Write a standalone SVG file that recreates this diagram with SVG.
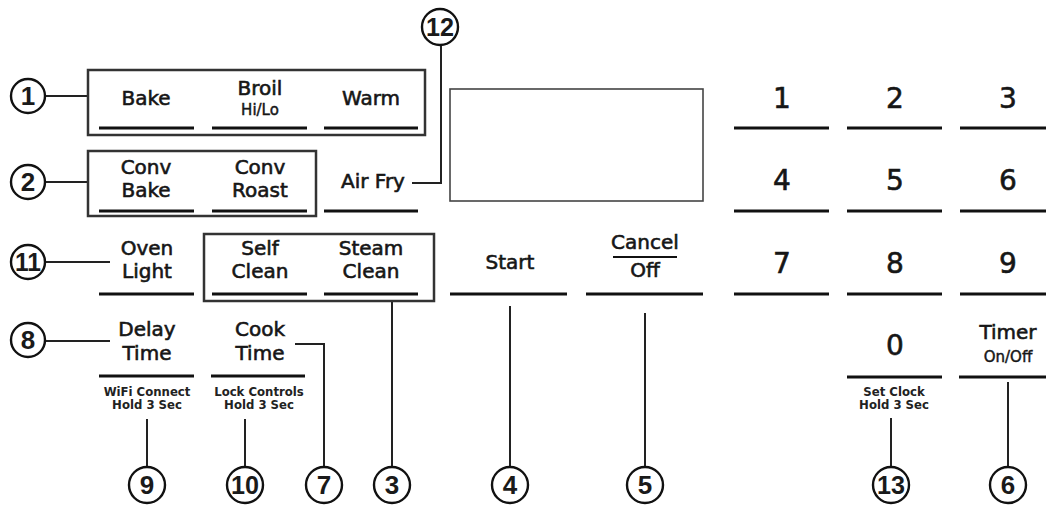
<svg xmlns="http://www.w3.org/2000/svg" width="1046" height="505" viewBox="0 0 1046 505">
<style>
.lbl{font-family:"DejaVu Sans",sans-serif;font-size:20px;fill:#161616;stroke:#161616;stroke-width:0.6;text-anchor:middle}
.sub{font-family:"DejaVu Sans",sans-serif;font-size:15px;fill:#161616;stroke:#161616;stroke-width:0.45;text-anchor:middle}
.tiny{font-family:"DejaVu Sans Condensed","DejaVu Sans",sans-serif;font-weight:bold;font-stretch:condensed;font-size:13px;fill:#222;text-anchor:middle}
.dig{font-family:"DejaVu Sans",sans-serif;font-size:28px;fill:#161616;stroke:#161616;stroke-width:0.6;text-anchor:middle}
.ul{stroke:#111;stroke-width:3;fill:none}
.box{stroke:#333;stroke-width:2.5;fill:none}
.disp{stroke:#444;stroke-width:1.6;fill:none}
.con{stroke:#222;stroke-width:2;fill:none}
.cc{stroke:#111;stroke-width:2.4;fill:#fff}
.cn{font-family:"Liberation Sans",Arial,sans-serif;font-weight:bold;font-size:26px;fill:#1a1a1a;text-anchor:middle}
</style>
<g id="connectors">
<line class="con" x1="46" y1="96" x2="88" y2="96"/>
<line class="con" x1="46" y1="182" x2="88" y2="182"/>
<line class="con" x1="46" y1="262" x2="110" y2="262"/>
<line class="con" x1="46" y1="341" x2="110" y2="341"/>
<polyline class="con" points="412,183 441,183 441,45"/>
<polyline class="con" points="295,344 324,344 324,467"/>
<line class="con" x1="392" y1="301" x2="392" y2="467"/>
<line class="con" x1="147" y1="419" x2="147" y2="467"/>
<line class="con" x1="245" y1="419" x2="245" y2="467"/>
<line class="con" x1="510" y1="306" x2="510" y2="467"/>
<line class="con" x1="645" y1="313" x2="645" y2="467"/>
<line class="con" x1="891" y1="418" x2="891" y2="467"/>
<line class="con" x1="1008" y1="382" x2="1008" y2="467"/>
</g>
<g id="group1"><rect class="box" x="88" y="70" width="337" height="65"/></g>
<g id="group2"><rect class="box" x="88" y="151" width="228" height="65"/></g>
<g id="group3"><rect class="box" x="204" y="234" width="230" height="67"/></g>
<g id="display"><rect class="disp" x="450" y="89" width="253" height="112"/></g>
<g id="bake"><text class="lbl" x="146" y="105">Bake</text><line class="ul" x1="99" y1="128" x2="194" y2="128"/></g>
<g id="broil"><text class="lbl" x="260" y="95">Broil</text><text class="sub" x="260" y="115">Hi/Lo</text><line class="ul" x1="212" y1="128" x2="307" y2="128"/></g>
<g id="warm"><text class="lbl" x="371" y="105">Warm</text><line class="ul" x1="324" y1="128" x2="418" y2="128"/></g>
<g id="convbake"><text class="lbl" x="146" y="174">Conv</text><text class="lbl" x="146" y="197">Bake</text><line class="ul" x1="99" y1="211" x2="194" y2="211"/></g>
<g id="convroast"><text class="lbl" x="260" y="174">Conv</text><text class="lbl" x="260" y="197">Roast</text><line class="ul" x1="212" y1="211" x2="307" y2="211"/></g>
<g id="airfry"><text class="lbl" x="373" y="188">Air Fry</text><line class="ul" x1="324" y1="211" x2="418" y2="211"/></g>
<g id="ovenlight"><text class="lbl" x="147" y="255">Oven</text><text class="lbl" x="147" y="278">Light</text><line class="ul" x1="99" y1="294" x2="194" y2="294"/></g>
<g id="selfclean"><text class="lbl" x="260" y="255">Self</text><text class="lbl" x="260" y="278">Clean</text><line class="ul" x1="212" y1="294" x2="307" y2="294"/></g>
<g id="steamclean"><text class="lbl" x="371" y="255">Steam</text><text class="lbl" x="371" y="278">Clean</text><line class="ul" x1="324" y1="294" x2="418" y2="294"/></g>
<g id="start"><text class="lbl" x="510" y="269">Start</text><line class="ul" x1="450" y1="294" x2="567" y2="294"/></g>
<g id="canceloff"><text class="lbl" x="645" y="249">Cancel</text><line x1="613" y1="257" x2="677" y2="257" stroke="#111" stroke-width="2"/><text class="lbl" x="645" y="277">Off</text><line class="ul" x1="586" y1="294" x2="703" y2="294"/></g>
<g id="delaytime"><text class="lbl" x="147" y="336">Delay</text><text class="lbl" x="147" y="360">Time</text><line class="ul" x1="99" y1="376" x2="194" y2="376"/><text class="tiny" x="147" y="396">WiFi Connect</text><text class="tiny" x="147" y="409">Hold 3 Sec</text></g>
<g id="cooktime"><text class="lbl" x="260" y="336">Cook</text><text class="lbl" x="260" y="360">Time</text><line class="ul" x1="211" y1="376" x2="305" y2="376"/><text class="tiny" x="259" y="396">Lock Controls</text><text class="tiny" x="259" y="409">Hold 3 Sec</text></g>
<g id="keypad">
<text class="dig" x="782" y="108">1</text><text class="dig" x="895" y="108">2</text><text class="dig" x="1008" y="108">3</text>
<text class="dig" x="782" y="190">4</text><text class="dig" x="895" y="190">5</text><text class="dig" x="1008" y="190">6</text>
<text class="dig" x="782" y="273">7</text><text class="dig" x="895" y="273">8</text><text class="dig" x="1008" y="273">9</text>
<line class="ul" x1="734" y1="128" x2="829" y2="128"/><line class="ul" x1="847" y1="128" x2="942" y2="128"/><line class="ul" x1="960" y1="128" x2="1046" y2="128"/>
<line class="ul" x1="734" y1="211" x2="829" y2="211"/><line class="ul" x1="847" y1="211" x2="942" y2="211"/><line class="ul" x1="960" y1="211" x2="1046" y2="211"/>
<line class="ul" x1="734" y1="294" x2="829" y2="294"/><line class="ul" x1="847" y1="294" x2="942" y2="294"/><line class="ul" x1="960" y1="294" x2="1046" y2="294"/>
</g>
<g id="zero"><text class="dig" x="895" y="355">0</text><line class="ul" x1="847" y1="377" x2="942" y2="377"/><text class="tiny" x="894" y="396">Set Clock</text><text class="tiny" x="894" y="409">Hold 3 Sec</text></g>
<g id="timer"><text class="lbl" x="1008" y="339">Timer</text><text class="sub" x="1008" y="362">On/Off</text><line class="ul" x1="959" y1="377" x2="1046" y2="377"/></g>
<g id="c1"><circle class="cc" cx="28" cy="96" r="17"/><text class="cn" x="28" y="105">1</text></g>
<g id="c2"><circle class="cc" cx="28" cy="182" r="17"/><text class="cn" x="28" y="191">2</text></g>
<g id="c11"><circle class="cc" cx="28" cy="262" r="17"/><text class="cn" x="28" y="271" textLength="26" lengthAdjust="spacingAndGlyphs">11</text></g>
<g id="c8"><circle class="cc" cx="28" cy="340" r="17"/><text class="cn" x="28" y="349">8</text></g>
<g id="c12"><circle class="cc" cx="440" cy="27" r="18"/><text class="cn" x="440" y="36" textLength="28" lengthAdjust="spacingAndGlyphs">12</text></g>
<g id="c9"><circle class="cc" cx="147" cy="485" r="18"/><text class="cn" x="147" y="494">9</text></g>
<g id="c10"><circle class="cc" cx="245" cy="485" r="18"/><text class="cn" x="245" y="494" textLength="28" lengthAdjust="spacingAndGlyphs">10</text></g>
<g id="c7"><circle class="cc" cx="324" cy="485" r="18"/><text class="cn" x="324" y="494">7</text></g>
<g id="c3"><circle class="cc" cx="392" cy="485" r="18"/><text class="cn" x="392" y="494">3</text></g>
<g id="c4"><circle class="cc" cx="510" cy="485" r="18"/><text class="cn" x="510" y="494">4</text></g>
<g id="c5"><circle class="cc" cx="645" cy="485" r="18"/><text class="cn" x="645" y="494">5</text></g>
<g id="c13"><circle class="cc" cx="891" cy="485" r="18"/><text class="cn" x="891" y="494" textLength="28" lengthAdjust="spacingAndGlyphs">13</text></g>
<g id="c6"><circle class="cc" cx="1008" cy="485" r="18"/><text class="cn" x="1008" y="494">6</text></g>
</svg>
